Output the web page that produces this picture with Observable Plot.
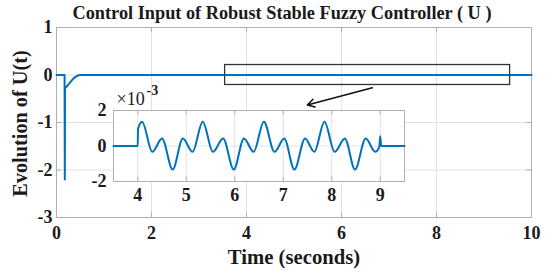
<!DOCTYPE html>
<html><head><meta charset="utf-8">
<script src="https://cdn.jsdelivr.net/npm/d3@7"></script>
<script src="https://cdn.jsdelivr.net/npm/@observablehq/plot@0.6"></script>
<style>
body{margin:0;background:#fff;}
#wrap{position:relative;width:547px;height:273px;overflow:hidden;}
#inset{position:absolute;left:83px;top:88px;}
</style></head><body><div id="wrap"><div id="main"></div><div id="inset"></div></div>
<script>
const titleText = "Control Input of Robust Stable Fuzzy Controller ( U )";
const xLabel = "Time (seconds)";
const yLabel = "Evolution of U(t)";
const mainXTicks = [0, 2, 4, 6, 8, 10];
const mainYTicks = [-3, -2, -1, 0, 1];
const mainT = [0, 0.17, 0.175, 0.18, 0.21, 0.25, 0.3, 0.35, 0.4, 0.45, 0.5, 10];
const mainU = [0, 0, -2.2, -0.27, -0.25, -0.2, -0.14, -0.08, -0.04, -0.012, 0, 0];
const insetXTicks = [4, 5, 6, 7, 8, 9];
const insetYTicks = [-2, 0, 2];
const insetT = [3.5, 4.0, 4.005, 4.09, 4.30, 4.50, 4.72, 4.93, 5.13, 5.34, 5.55, 5.76, 5.98, 6.19, 6.39, 6.60, 6.82, 7.02, 7.23, 7.45, 7.64, 7.85, 8.06, 8.27, 8.48, 8.70, 8.90, 8.98, 9.0, 9.02, 9.5];
const insetU = [0, 0, 0.95, 1.37, -0.33, 0.42, -1.33, 0.42, -0.33, 1.37, -0.33, 0.42, -1.33, 0.42, -0.33, 1.37, -0.33, 0.42, -1.33, 0.42, -0.33, 1.37, -0.33, 0.42, -1.33, 0.42, -0.33, -0.05, 0.55, 0, 0]; // ×10^-3
const zoomBox = [{x1: 3.55, x2: 9.55, y1: -0.21, y2: 0.21}];
const arrowLine = [{x1: 6.65, y1: -0.27, x2: 5.28, y2: -0.63}];

const FONT = "'Liberation Serif','Times New Roman',serif";
const BLUE = "#0072BD";
const GRID = "#e2e2e2";
const FRAME = "#b0b0b0";

const mainData = mainT.map((t, i) => ({t, u: mainU[i]}));
const main = Plot.plot({
  width: 547, height: 273, marginLeft: 56, marginRight: 16, marginTop: 27, marginBottom: 56,
  x: {domain: [0, 10]}, y: {domain: [-3, 1]},
  style: {fontFamily: FONT, fontWeight: "bold", fontSize: "18px", color: "#1a1a1a", background: "#fff"},
  marks: [
    Plot.ruleX(mainXTicks, {stroke: GRID}),
    Plot.ruleY(mainYTicks, {stroke: GRID}),
    Plot.ruleX(mainXTicks, {y1: -3, y2: -2.9, stroke: FRAME}),
    Plot.ruleX(mainXTicks, {y1: 1, y2: 0.9, stroke: FRAME}),
    Plot.ruleY(mainYTicks, {x1: 0, x2: 0.1, stroke: FRAME}),
    Plot.ruleY(mainYTicks, {x1: 10, x2: 9.9, stroke: FRAME}),
    Plot.frame({stroke: FRAME}),
    Plot.axisX(mainXTicks, {tickSize: 0, tickPadding: 9, tickFormat: d => String(d), label: null}),
    Plot.axisY(mainYTicks, {tickSize: 0, tickPadding: 4, tickFormat: d => String(d), label: null}),
    Plot.line(mainData, {x: "t", y: "u", stroke: BLUE, strokeWidth: 2}),
    Plot.rect(zoomBox, {x1: "x1", x2: "x2", y1: "y1", y2: "y2", fill: "none", stroke: "#333", strokeWidth: 1.3}),
    Plot.arrow(arrowLine, {x1: "x1", y1: "y1", x2: "x2", y2: "y2", stroke: "#111", strokeWidth: 1.5, headLength: 8}),
    Plot.text([titleText], {text: d => d, frameAnchor: "top", lineAnchor: "middle", dx: -12, dy: -14, fontSize: 18.3, fontWeight: "bold"}),
    Plot.text([xLabel], {text: d => d, frameAnchor: "bottom", lineAnchor: "middle", dy: 39.5, fontSize: 20.7, fontWeight: "bold"}),
    Plot.text([yLabel], {text: d => d, frameAnchor: "left", textAnchor: "middle", lineAnchor: "middle", rotate: -90, dx: -36, dy: 1, fontSize: 20.3, fontWeight: "bold"})
  ]
});
document.getElementById("main").appendChild(main);

const insetData = insetT.map((t, i) => ({t, u: insetU[i]}));
const inset = Plot.plot({
  width: 326, height: 119, marginLeft: 30, marginRight: 5, marginTop: 22, marginBottom: 26,
  x: {domain: [3.5, 9.5]}, y: {domain: [-2, 2]},
  style: {fontFamily: FONT, fontWeight: "bold", fontSize: "18px", color: "#1a1a1a", background: "transparent", overflow: "visible"},
  marks: [
    Plot.frame({fill: "#fff", stroke: null}),
    Plot.ruleX(insetXTicks, {stroke: GRID}),
    Plot.ruleY(insetYTicks, {stroke: GRID}),
    Plot.ruleX(insetXTicks, {y1: -2, y2: -1.75, stroke: FRAME}),
    Plot.ruleX(insetXTicks, {y1: 2, y2: 1.75, stroke: FRAME}),
    Plot.ruleY(insetYTicks, {x1: 3.5, x2: 3.58, stroke: FRAME}),
    Plot.ruleY(insetYTicks, {x1: 9.5, x2: 9.42, stroke: FRAME}),
    Plot.frame({stroke: FRAME}),
    Plot.axisX(insetXTicks, {tickSize: 0, tickPadding: 7, tickFormat: d => String(d), label: null}),
    Plot.axisY(insetYTicks, {tickSize: 0, tickPadding: 7, tickFormat: d => String(d), label: null}),
    Plot.line(insetData, {x: "t", y: "u", stroke: BLUE, strokeWidth: 2, curve: "monotone-x"}),
    Plot.text(["×10"], {text: d => d, frameAnchor: "top-left", textAnchor: "start", lineAnchor: "middle", dx: 3, dy: -11, fontSize: 18, fontWeight: "normal"}),
    Plot.text(["-3"], {text: d => d, frameAnchor: "top-left", textAnchor: "start", lineAnchor: "middle", dx: 33, dy: -20, fontSize: 14, fontWeight: "bold"})
  ]
});
document.getElementById("inset").appendChild(inset);
</script></body></html>
